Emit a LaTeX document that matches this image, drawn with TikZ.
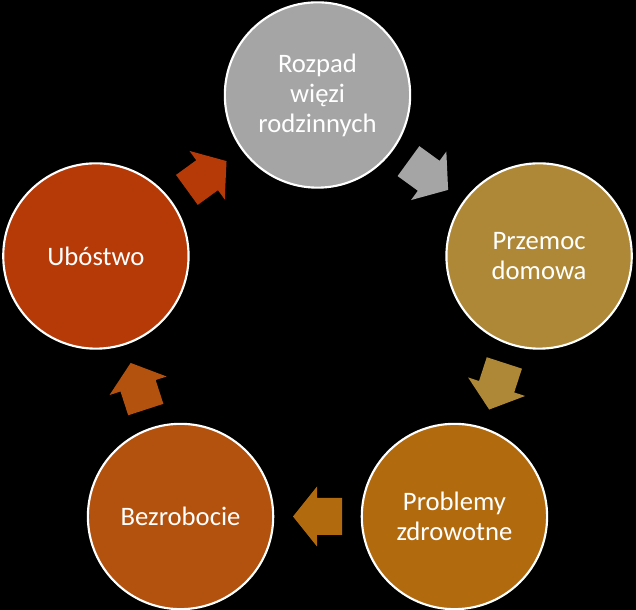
\documentclass[tikz,border=0pt]{standalone}
\usepackage{fontspec}
\setmainfont{Carlito}
\usetikzlibrary{calc}
\definecolor{cA}{RGB}{165,165,165}
\definecolor{cB}{RGB}{174,136,54}
\definecolor{cC}{RGB}{178,106,14}
\definecolor{cD}{RGB}{178,82,14}
\definecolor{cE}{RGB}{182,58,8}
\tikzset{
  circ/.style={circle, draw=white, line width=1.6pt, minimum size=139pt, inner sep=0pt,
    text=white, align=center, font=\fontsize{20}{22.5}\selectfont}
}
\newcommand{\cycArrow}[3]{%
  \fill[#3, shift={(#1)}, rotate=#2]
    (-24.5,-18.5) -- (0.5,-18.5) -- (0.5,-30) -- (24.5,0) -- (0.5,30) -- (0.5,18.5) -- (-24.5,18.5) -- cycle;}
\begin{document}
\begin{tikzpicture}[x=0.75pt,y=0.75pt]
  \fill[black] (0,0) rectangle (636,610);
  \useasboundingbox (0,0) rectangle (636,610);
  \coordinate (C) at (317.5,282);
  \node[circ, fill=cA] (n1) at ($(C)+(90:233)$) {Rozpad\\więzi\\rodzinnych};
  \node[circ, fill=cB] (n2) at ($(C)+(18:233)$) {Przemoc\\domowa};
  \node[circ, fill=cC] (n3) at ($(C)+(-54:233)$) {Problemy\\zdrowotne};
  \node[circ, fill=cD] (n4) at ($(C)+(-126:233)$) {Bezrobocie};
  \node[circ, fill=cE] (n5) at ($(C)+(162:233)$) {Ubóstwo};
  \coordinate (a1) at ($(n1)!0.5!(n2)$);
  \coordinate (a2) at ($(n2)!0.5!(n3)$);
  \coordinate (a3) at ($(n3)!0.5!(n4)$);
  \coordinate (a4) at ($(n4)!0.5!(n5)$);
  \coordinate (a5) at ($(n5)!0.5!(n1)$);
  \cycArrow{a1}{-36}{cA}
  \cycArrow{a2}{-108}{cB}
  \cycArrow{a3}{180}{cC}
  \cycArrow{a4}{108}{cD}
  \cycArrow{a5}{36}{cE}
\end{tikzpicture}
\end{document}
